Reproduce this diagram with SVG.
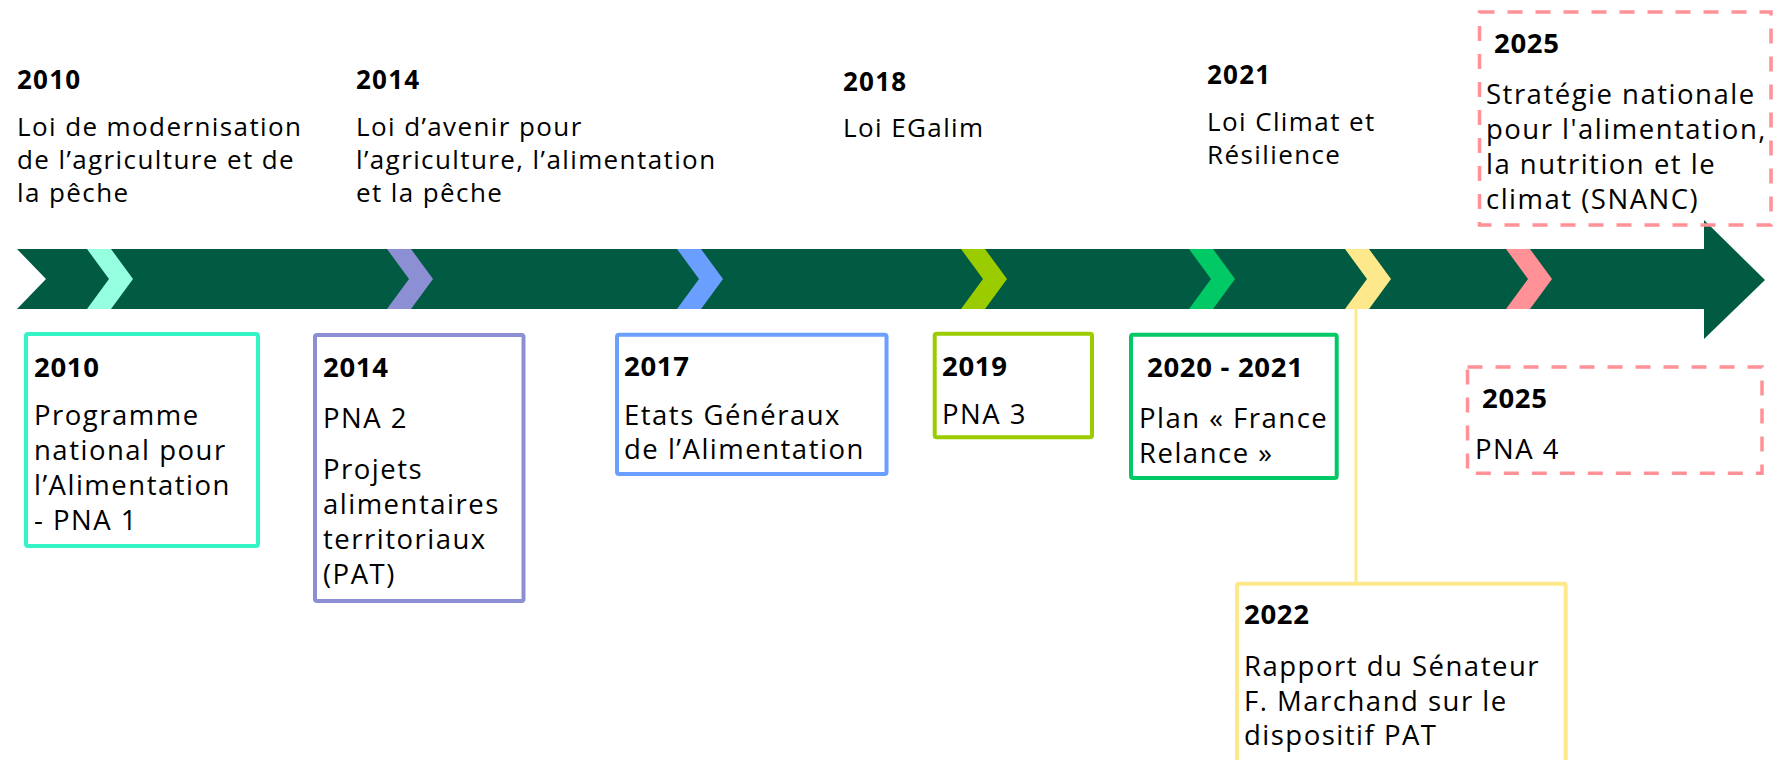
<svg xmlns="http://www.w3.org/2000/svg" width="1775" height="760" viewBox="0 0 1775 760">
<style>
text{font-family:"Open Sans","Noto Sans",sans-serif;fill:#000}
.top{font-size:26px;letter-spacing:1.4px}
.topy{font-size:26px;font-weight:700;letter-spacing:1.2px}
.bx{font-size:27.5px;letter-spacing:1.5px}
.bxy{font-size:27.5px;font-weight:700;letter-spacing:0.7px}
.box{fill:#fff;stroke-width:4}
.dash{fill:none;stroke:#ff9197;stroke-width:3.5;stroke-dasharray:15 13}
</style>
<defs>
<path id="chev" d="M0,249 H24 L46,279 L24,309 H0 L22,279 Z"/>
</defs>
<g id="timeline">
<path d="M17,249 H1704 V220 L1765,280 L1704,339 V309 H17 L46,279 Z" fill="#015b42"/>
<use href="#chev" x="87" fill="#95ffe0"/>
<use href="#chev" x="387" fill="#8d8fd5"/>
<use href="#chev" x="677" fill="#6a9eff"/>
<use href="#chev" x="961" fill="#9bcc00"/>
<use href="#chev" x="1189" fill="#00c965"/>
<use href="#chev" x="1345" fill="#fde98c"/>
<use href="#chev" x="1506" fill="#ff9197"/>
</g>
<g id="connectors">
<line x1="1356" y1="309" x2="1356" y2="583" stroke="#fde98c" stroke-width="3"/>
</g>
<g id="top-2010">
<text class="topy" x="17" y="89">2010</text>
<text class="top" x="17" y="136">Loi de modernisation</text>
<text class="top" x="17" y="169">de l’agriculture et de</text>
<text class="top" x="17" y="202">la pêche</text>
</g>
<g id="top-2014">
<text class="topy" x="356" y="89">2014</text>
<text class="top" x="356" y="136">Loi d’avenir pour</text>
<text class="top" x="356" y="169">l’agriculture, l’alimentation</text>
<text class="top" x="356" y="202">et la pêche</text>
</g>
<g id="top-2018">
<text class="topy" x="843" y="91">2018</text>
<text class="top" x="843" y="137">Loi EGalim</text>
</g>
<g id="top-2021">
<text class="topy" x="1207" y="84">2021</text>
<text class="top" x="1207" y="131">Loi Climat et</text>
<text class="top" x="1207" y="164">Résilience</text>
</g>
<g id="top-2025">
<rect class="dash" x="1479.5" y="12" width="291.5" height="213"/>
<text class="bxy" x="1494" y="53">2025</text>
<text class="bx" x="1486" y="104">Stratégie nationale</text>
<text class="bx" x="1486" y="139">pour l'alimentation,</text>
<text class="bx" x="1486" y="174">la nutrition et le</text>
<text class="bx" x="1486" y="209">climat (SNANC)</text>
</g>
<g id="box-2010">
<rect class="box" x="26" y="334" width="232" height="212" rx="2" stroke="#34f5c6"/>
<text class="bxy" x="34" y="377">2010</text>
<text class="bx" x="34" y="425">Programme</text>
<text class="bx" x="34" y="460">national pour</text>
<text class="bx" x="34" y="495">l’Alimentation</text>
<text class="bx" x="34" y="530">- PNA 1</text>
</g>
<g id="box-2014">
<rect class="box" x="315" y="335" width="208.5" height="266" rx="2" stroke="#8d8fd5"/>
<text class="bxy" x="323" y="377">2014</text>
<text class="bx" x="323" y="428">PNA 2</text>
<text class="bx" x="323" y="479">Projets</text>
<text class="bx" x="323" y="514">alimentaires</text>
<text class="bx" x="323" y="549">territoriaux</text>
<text class="bx" x="323" y="584">(PAT)</text>
</g>
<g id="box-2017">
<rect class="box" x="617" y="334.7" width="269.5" height="139.3" rx="2" stroke="#6a9eff"/>
<text class="bxy" x="624" y="376">2017</text>
<text class="bx" x="624" y="425">Etats Généraux</text>
<text class="bx" x="624" y="459">de l’Alimentation</text>
</g>
<g id="box-2019">
<rect class="box" x="934.7" y="333.7" width="157.3" height="103.6" rx="2" stroke="#9bcc00"/>
<text class="bxy" x="942" y="376">2019</text>
<text class="bx" x="942" y="424">PNA 3</text>
</g>
<g id="box-2020">
<rect class="box" x="1131" y="334.7" width="205.7" height="143.3" rx="2" stroke="#00c965"/>
<text class="bxy" x="1147" y="377">2020 - 2021</text>
<text class="bx" x="1139" y="428">Plan « France</text>
<text class="bx" x="1139" y="463">Relance »</text>
</g>
<g id="box-2022">
<rect class="box" x="1237" y="583.7" width="328.7" height="200" rx="2" stroke="#fde98c"/>
<text class="bxy" x="1244" y="624">2022</text>
<text class="bx" x="1244" y="676">Rapport du Sénateur</text>
<text class="bx" x="1244" y="710.5">F. Marchand sur le</text>
<text class="bx" x="1244" y="745">dispositif PAT</text>
</g>
<g id="box-2025">
<rect class="dash" x="1467.5" y="367" width="294.5" height="106.3"/>
<text class="bxy" x="1482" y="408">2025</text>
<text class="bx" x="1475" y="459">PNA 4</text>
</g>
</svg>
